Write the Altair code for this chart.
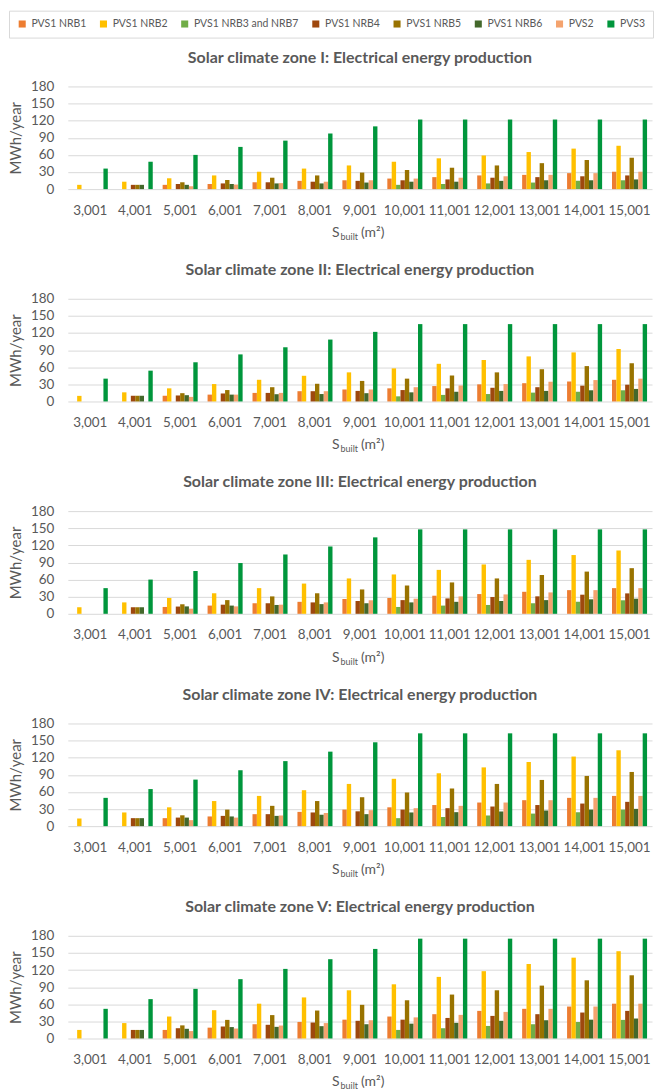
import altair as alt
import pandas as pd

CATEGORIES = ["3,001", "4,001", "5,001", "6,001", "7,001", "8,001", "9,001",
              "10,001", "11,001", "12,001", "13,001", "14,001", "15,001"]
SERIES = ["PVS1 NRB1", "PVS1 NRB2", "PVS1 NRB3 and NRB7", "PVS1 NRB4",
          "PVS1 NRB5", "PVS1 NRB6", "PVS2", "PVS3"]
COLORS = ["#ED7D31", "#FFC000", "#70AD47", "#9E480E", "#997300", "#43682B", "#F4A36E", "#00963C"]
ZONES = ["I", "II", "III", "IV", "V"]

# Zone I
I_NRB1 = [0, 0, 7.5, 9, 12, 14.5, 15.5, 18.5, 21, 24, 25, 28, 30.5]
I_NRB2 = [7.5, 13, 19, 24, 30.5, 36, 41.5, 48, 54, 59, 65, 71, 76]
I_NRB3 = [0, 0, 0, 0, 0, 0, 0, 7.5, 9, 10, 11.5, 14.5, 15.5]
I_NRB4 = [0, 7.5, 9, 10, 12, 13, 14.5, 15.5, 17, 20, 21, 22.5, 24]
I_NRB5 = [0, 7.5, 12, 16, 20, 24, 29, 33.5, 37.5, 41.5, 45.5, 51, 55]
I_NRB6 = [0, 7.5, 7.5, 9, 10, 10, 11.5, 13, 13, 14.5, 15.5, 15.5, 17]
I_PVS2 = [0, 0, 5, 8, 10.5, 13, 15.5, 18.5, 20, 22.5, 25, 28, 30.5]
I_PVS3 = [36, 48, 60, 74, 85, 97.5, 110, 122, 122, 122, 122, 122, 122]

# Zone II
II_NRB1 = [0, 0, 10, 12, 15, 18, 21, 23, 27, 30, 32, 35, 38]
II_NRB2 = [9.8, 16, 23, 30.5, 38, 45, 51, 58, 66, 72.7, 79, 86, 92]
II_NRB3 = [0, 0, 0, 0, 0, 0, 0, 9, 11.5, 13, 15.5, 17, 19.6]
II_NRB4 = [0, 10, 10.5, 14, 15, 18, 18.5, 20, 23, 24, 25, 27.7, 29.4]
II_NRB5 = [0, 10, 14.5, 20, 25, 31, 36, 40, 45.5, 51, 56.5, 62, 67]
II_NRB6 = [0, 10, 11, 12, 12.7, 13, 14.5, 16, 17, 18.5, 18.5, 19.6, 22]
II_PVS2 = [0, 0, 8, 12, 15, 18, 21, 25, 28, 30.5, 34.6, 37.5, 40]
II_PVS3 = [40, 54, 68.7, 82.5, 95, 108.5, 122, 135.6, 135.6, 135.6, 135.6, 135.6, 135.6]

# Zone III
III_NRB1 = [0, 0, 12, 14.4, 18.5, 21, 26, 27.7, 31.7, 34.6, 38.6, 41.5, 45]
III_NRB2 = [11.5, 20, 27.7, 36, 45, 53, 62, 69, 77, 86.5, 94.6, 103, 111]
III_NRB3 = [0, 0, 0, 0, 0, 0, 0, 12, 14.4, 15.5, 18.5, 21, 23.7]
III_NRB4 = [0, 11.5, 12.7, 16, 18.5, 20, 22.5, 24, 27, 29.4, 30.6, 33.5, 35.8]
III_NRB5 = [0, 11.5, 16.7, 24, 30.5, 36, 42.7, 49.6, 55, 62, 68, 74, 80]
III_NRB6 = [0, 11.5, 13, 14.4, 15.5, 17, 18.5, 20, 21, 22.5, 24, 25.4, 26.5]
III_PVS2 = [0, 0, 9, 13, 16, 20, 23.7, 26.5, 30.5, 34, 37.5, 41.5, 45]
III_PVS3 = [45, 60, 75, 89, 104, 118, 134, 148, 148, 148, 148, 148, 148]

# Zone IV
IV_NRB1 = [0, 0, 14, 17, 21, 25, 29, 33, 37, 41.4, 45.5, 49.6, 53]
IV_NRB2 = [13.4, 24, 33, 44, 53, 63, 74, 83, 92.7, 103, 112.5, 122, 133]
IV_NRB3 = [0, 0, 0, 0, 0, 0, 0, 14, 16, 18.7, 22, 24.5, 29]
IV_NRB4 = [0, 14, 15, 18, 21, 24, 26, 29, 31.5, 34.4, 37, 39.6, 42.6]
IV_NRB5 = [0, 14, 19, 29, 35.6, 44, 50.7, 59, 66, 74, 81, 88, 95]
IV_NRB6 = [0, 14, 15, 17, 18, 20, 21, 24, 24.5, 25.7, 27.4, 29, 30.3]
IV_PVS2 = [0, 0, 10.5, 15, 18.7, 23, 28, 31.5, 35.6, 41.4, 45.5, 49.6, 53]
IV_PVS3 = [49.6, 65, 81.6, 98, 114, 130.6, 147, 162.7, 162.7, 162.7, 162.7, 162.7, 162.7]

# Zone V
V_NRB1 = [0, 0, 15, 19, 25, 29, 33, 38.5, 42.6, 48.4, 52, 56, 61]
V_NRB2 = [15, 27, 38.5, 49.6, 61, 72, 84.5, 95, 108, 118, 130.6, 141.7, 153]
V_NRB3 = [0, 0, 0, 0, 0, 0, 0, 15, 18, 22, 25, 29, 32.6]
V_NRB4 = [0, 15, 18, 21, 24, 28, 31, 33, 36, 39.6, 42.6, 45.5, 48.4]
V_NRB5 = [0, 15, 23, 32.6, 41, 49, 59, 67, 77, 84.5, 92.7, 102, 110.8]
V_NRB6 = [0, 15, 17, 20, 20.4, 21.6, 25, 26, 27.4, 31, 32, 33, 35]
V_PVS2 = [0, 0, 13, 17.5, 22.7, 27, 32, 37, 41.4, 46.6, 52, 56, 61]
V_PVS3 = [52, 69, 87, 104, 122, 139, 157, 175, 175, 175, 175, 175, 175]

ZONE_DATA = {
    "I": [I_NRB1, I_NRB2, I_NRB3, I_NRB4, I_NRB5, I_NRB6, I_PVS2, I_PVS3],
    "II": [II_NRB1, II_NRB2, II_NRB3, II_NRB4, II_NRB5, II_NRB6, II_PVS2, II_PVS3],
    "III": [III_NRB1, III_NRB2, III_NRB3, III_NRB4, III_NRB5, III_NRB6, III_PVS2, III_PVS3],
    "IV": [IV_NRB1, IV_NRB2, IV_NRB3, IV_NRB4, IV_NRB5, IV_NRB6, IV_PVS2, IV_PVS3],
    "V": [V_NRB1, V_NRB2, V_NRB3, V_NRB4, V_NRB5, V_NRB6, V_PVS2, V_PVS3],
}

W, H = 586, 103
FONT = "Lato"
GRAY = "#595959"


def panel(zone):
    rows = []
    for s, vals in zip(SERIES, ZONE_DATA[zone]):
        for c, v in zip(CATEGORIES, vals):
            rows.append({"cat": c, "series": s, "value": v})
    df = pd.DataFrame(rows)
    bars = alt.Chart(df).mark_bar().encode(
        x=alt.X("cat:N", sort=CATEGORIES,
                scale=alt.Scale(paddingInner=0.22, paddingOuter=0.11),
                axis=alt.Axis(title=None, labelAngle=0, ticks=False, domain=False,
                              labelPadding=14, labelFontSize=13.5, labelFont=FONT,
                              labelColor=GRAY)),
        xOffset=alt.XOffset("series:N", sort=SERIES),
        y=alt.Y("value:Q", scale=alt.Scale(domain=[0, 180]),
                axis=alt.Axis(values=[0, 30, 60, 90, 120, 150, 180], title="MWh/year",
                              ticks=False, domain=False, labelPadding=14,
                              labelFontSize=13.5, labelFont=FONT, labelColor=GRAY,
                              titleFont=FONT, titleFontSize=15, titleFontWeight="normal",
                              titleColor=GRAY, titlePadding=7, gridColor="#d9d9d9")),
        color=alt.Color("series:N", sort=SERIES,
                        scale=alt.Scale(domain=SERIES, range=COLORS),
                        legend=alt.Legend(title=None, orient="none", legendX=-59, legendY=-76,
                                          direction="horizontal", columns=8,
                                          symbolType="square", symbolSize=50,
                                          symbolStrokeWidth=0, labelFont=FONT,
                                          labelFontSize=10.5, labelColor=GRAY,
                                          columnPadding=11.5, padding=8,
                                          strokeColor="#d9d9d9")),
    )
    one = pd.DataFrame({"k": [0]})
    t_s = alt.Chart(one).mark_text(text="S", font=FONT, fontSize=14, color=GRAY,
                                   align="left", baseline="alphabetic").encode(
        x=alt.value(265), y=alt.value(H + 48))
    t_b = alt.Chart(one).mark_text(text="built", font=FONT, fontSize=9, color=GRAY,
                                   align="left", baseline="alphabetic").encode(
        x=alt.value(273.5), y=alt.value(H + 51))
    t_m = alt.Chart(one).mark_text(text="(m²)", font=FONT, fontSize=14, color=GRAY,
                                   align="left", baseline="alphabetic").encode(
        x=alt.value(294), y=alt.value(H + 48))
    return alt.layer(bars, t_s, t_b, t_m).properties(
        width=W, height=H,
        title=alt.TitleParams(f"Solar climate zone {zone}: Electrical energy production",
                              font=FONT, fontSize=16, fontWeight="bold", color=GRAY,
                              anchor="middle", offset=14),
    )


chart = alt.vconcat(*[panel(z) for z in ZONES], spacing=20).properties(
    padding={"left": 0, "top": 0, "right": 0, "bottom": 0}
).configure_view(stroke=None).configure_scale(offsetBandPaddingInner=0)

chart.save("out.html", embed_options={"renderer": "svg", "actions": False})
